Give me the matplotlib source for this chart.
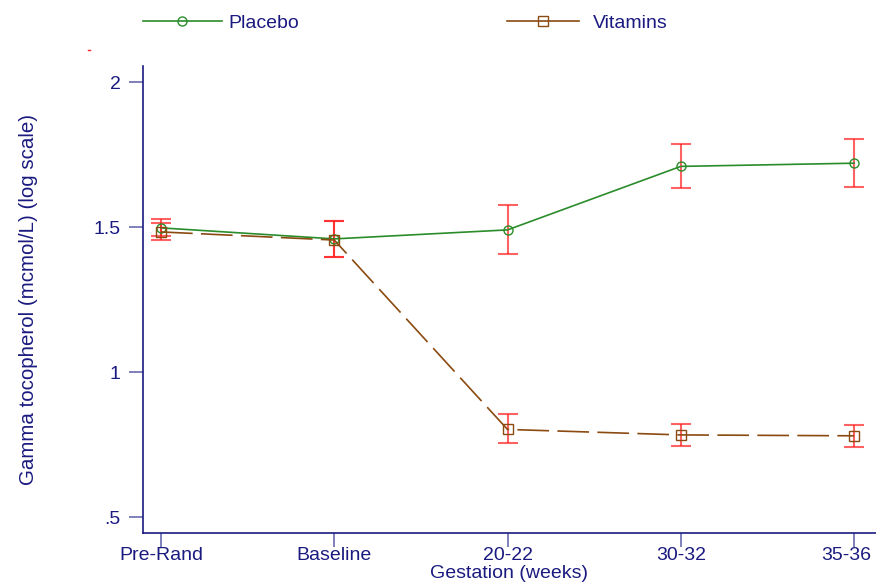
import matplotlib
matplotlib.use("Agg")
import matplotlib.pyplot as plt
from matplotlib.lines import Line2D
from matplotlib.transforms import ScaledTranslation
import numpy as np

categories = ["Pre-Rand", "Baseline", "20-22", "30-32", "35-36"]
placebo = [1.497, 1.459, 1.490, 1.709, 1.720]
placebo_lo = [1.469, 1.396, 1.406, 1.633, 1.639]
placebo_hi = [1.528, 1.520, 1.577, 1.785, 1.802]
vitamins = [1.483, 1.455, 0.802, 0.783, 0.780]
vitamins_lo = [1.455, 1.396, 0.754, 0.745, 0.742]
vitamins_hi = [1.514, 1.520, 0.854, 0.821, 0.818]
yticks = [0.5, 1.0, 1.5, 2.0]
ytick_labels = [".5", "1", "1.5", "2"]

plt.rcParams['font.family'] = ['Liberation Sans', 'DejaVu Sans']
navy = "#1a1a80"
tickc = "#6a6ab0"
green = "#2a8c2a"
brown = "#8a4a10"
red = "#ff2020"

fig = plt.figure(figsize=(8.76, 5.85), dpi=100)
ax = fig.add_axes([143/876, 1-533/585, (876-143)/876, (533-66)/585])
x = np.arange(len(categories))

for vals, lo, hi in [(placebo, placebo_lo, placebo_hi), (vitamins, vitamins_lo, vitamins_hi)]:
    v = np.array(vals)
    err = [v - np.array(lo), np.array(hi) - v]
    ax.errorbar(x, v, yerr=err, fmt='none', ecolor=red, alpha=0.7,
                elinewidth=1.5, capsize=7, capthick=1.5, zorder=2)

ax.plot(x, placebo, color=green, lw=1.2, marker='o', ms=6.5, mfc='none',
        mec=green, mew=1.0, zorder=3)
ax.plot(x, vitamins, color=brown, lw=1.2, marker='s', ms=6.5, mfc='none',
        mec=brown, mew=1.0, dashes=(19, 5), zorder=3)

ax.set_xlim(-0.104, 4.127)
ax.set_ylim(0.5 - 16/290, 2 + 16/290)
ax.set_xticks(x)
ax.set_xticklabels(categories)
ax.set_yticks(yticks)
ax.set_yticklabels(ytick_labels)
for s in ["top", "right"]:
    ax.spines[s].set_visible(False)
for s in ["left", "bottom"]:
    ax.spines[s].set_color(navy)
    ax.spines[s].set_linewidth(1.2)
ax.tick_params(axis='both', colors=tickc, labelcolor=navy, labelsize=14, width=1.2)
ax.tick_params(axis='x', length=10, pad=0)
ax.tick_params(axis='y', length=10, pad=6)
ax.set_xlabel("Gestation (weeks)", color=navy, fontsize=14, labelpad=1)
ax.set_ylabel("Gamma tocopherol (mcmol/L) (log scale)", color=navy, fontsize=14.8, labelpad=40)

last = ax.get_xticklabels()[-1]
last.set_transform(last.get_transform() + ScaledTranslation(-8/100, 0, fig.dpi_scale_trans))

h_pl = Line2D([], [], color=green, lw=1.2, marker='o', ms=6.5, mfc='none', mec=green, mew=1.0)
h_vi = Line2D([], [], color=brown, lw=1.2, marker='s', ms=6.5, mfc='none', mec=brown, mew=1.0)
leg1 = fig.legend([h_pl], ["Placebo"], loc='center left', bbox_to_anchor=(143/876, 1-23/585),
                  frameon=False, fontsize=14, handlelength=4.06, handletextpad=0.31,
                  borderpad=0, borderaxespad=0)
leg2 = fig.legend([h_vi], ["Vitamins"], loc='center left', bbox_to_anchor=(507/876, 1-23/585),
                  frameon=False, fontsize=14, handlelength=3.7, handletextpad=0.72,
                  borderpad=0, borderaxespad=0)
for lg in (leg1, leg2):
    for t in lg.get_texts():
        t.set_color(navy)

fig.add_artist(Line2D([88/876, 90/876], [1-50/585, 1-50/585], color=red, lw=1))

fig.savefig("out.png", dpi=100)
